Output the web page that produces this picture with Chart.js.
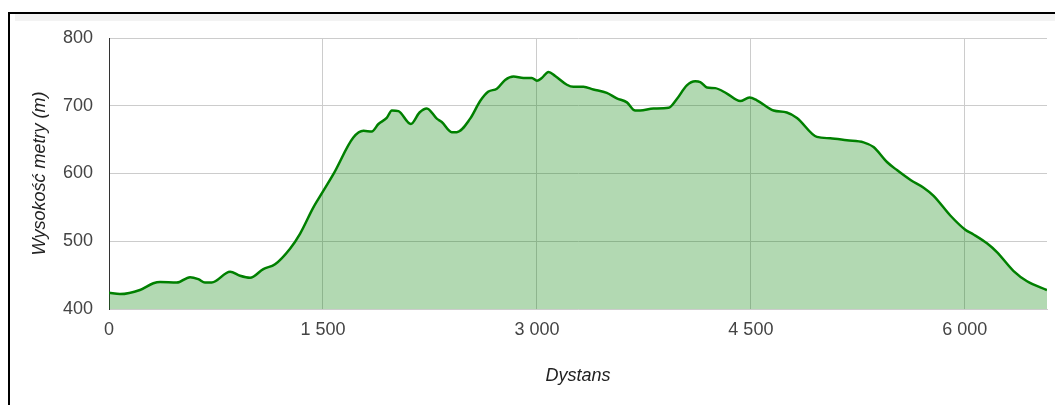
<!DOCTYPE html>
<html>
<head>
<meta charset="utf-8">
<script src="https://cdn.jsdelivr.net/npm/chart.js@4/dist/chart.umd.min.js"></script>
<style>
  html, body { margin: 0; padding: 0; background: #fff; width: 1055px; height: 405px; overflow: hidden; }
  #frame { position: absolute; left: 8px; top: 12px; width: 1045px; height: 393px; border-top: 2px solid #000; border-left: 2px solid #000; }
  #band { position: absolute; left: 15px; top: 14px; width: 1040px; height: 7px; background: #f3f3f3; }
  #c { position: absolute; left: 0; top: 0; }
</style>
</head>
<body>
<div id="frame"></div>
<div id="band"></div>
<canvas id="c" width="1055" height="405"></canvas>
<script>
// Distance along the route (m)
const distances = [0, 77, 217, 311, 358, 475, 568, 626, 673, 720, 849, 919, 989, 1082, 1164, 1269, 1339, 1433, 1496, 1573,
  1713, 1784, 1842, 1889, 1947, 1983, 2029, 2116, 2177, 2228, 2298, 2333, 2403, 2438, 2532, 2602, 2660, 2719, 2777, 2836,
  2906, 2964, 3000, 3034, 3081, 3128, 3210, 3256, 3326, 3396, 3490, 3560, 3631, 3689, 3724, 3817, 3923, 3981, 4051, 4110,
  4145, 4192, 4250, 4332, 4425, 4490, 4542, 4659, 4752, 4823, 4963, 5056, 5173, 5290, 5360, 5454, 5524, 5622, 5711, 5781,
  5898, 6003, 6061, 6155, 6225, 6342, 6436, 6576];
// Elevation (m)
const elevations = [424, 422, 428, 438, 440, 439, 447, 444, 439, 439, 455, 449, 446, 459, 466, 489, 511, 550, 572, 599,
  653, 663, 662, 673, 682, 693, 692, 673, 690, 696, 681, 676, 661, 661, 681, 707, 721, 725, 738, 743,
  741, 741, 737, 741, 750, 744, 731, 728, 728, 724, 719, 711, 705, 693, 693, 696, 697, 710, 730, 736,
  735, 727, 726, 718, 707, 712, 708, 693, 690, 682, 654, 652, 649, 646, 639, 617, 605, 590, 579, 567,
  538, 517, 510, 497, 484, 456, 441, 428];

const xTickValues = [0, 1500, 3000, 4500, 6000];
const xTickLabels = ['0', '1 500', '3 000', '4 500', '6 000'];
const yTickValues = [400, 500, 600, 700, 800];
const yTickLabels = ['400', '500', '600', '700', '800'];

const xTitle = 'Dystans';
const yTitle = 'Wysokość metry (m)';

const points = distances.map((d, i) => ({ x: d, y: elevations[i] }));

const tickFont = { family: "'Liberation Sans', Arial, sans-serif", size: 18 };
const titleFont = { family: "'Liberation Sans', Arial, sans-serif", size: 18, style: 'italic' };

new Chart(document.getElementById('c'), {
  type: 'line',
  data: {
    datasets: [{
      data: points,
      borderColor: '#008000',
      backgroundColor: 'rgba(0,128,0,0.3)',
      borderWidth: 2.5,
      pointRadius: 0,
      fill: 'start',
      tension: 0.3,
      cubicInterpolationMode: 'monotone'
    }]
  },
  options: {
    responsive: false,
    animation: false,
    layout: { padding: { left: 10, right: 8, top: 38, bottom: 0 } },
    plugins: { legend: { display: false }, tooltip: { enabled: false } },
    scales: {
      x: {
        type: 'linear',
        min: 0,
        max: distances[distances.length - 1],
        afterBuildTicks: s => { s.ticks = xTickValues.map(v => ({ value: v })); },
        afterFit: s => { s.height = 96; s.paddingLeft = 0; s.paddingRight = 0; },
        ticks: {
          includeBounds: false,
          autoSkip: false,
          maxRotation: 0,
          padding: 10,
          color: '#444',
          font: tickFont,
          callback: (v, i) => xTickLabels[i]
        },
        grid: { color: '#cccccc', lineWidth: 1, drawTicks: false },
        border: { display: true, color: '#cccccc', width: 1 },
        title: { display: true, text: xTitle, color: '#222', font: titleFont, padding: { top: 0, bottom: 18 } }
      },
      y: {
        min: 400,
        max: 800,
        afterBuildTicks: s => { s.ticks = yTickValues.map(v => ({ value: v })); },
        afterFit: s => { s.width = 99; s.paddingTop = 0; s.paddingBottom = 0; },
        ticks: {
          autoSkip: false,
          padding: 16,
          color: '#444',
          font: tickFont,
          callback: (v, i) => yTickLabels[i]
        },
        grid: { color: '#cccccc', lineWidth: 1, drawTicks: false },
        border: { display: true, color: '#333333', width: 1 },
        title: { display: true, text: yTitle, color: '#222', font: titleFont, padding: { top: 19, bottom: 0 } }
      }
    }
  }
});
</script>
</body>
</html>
